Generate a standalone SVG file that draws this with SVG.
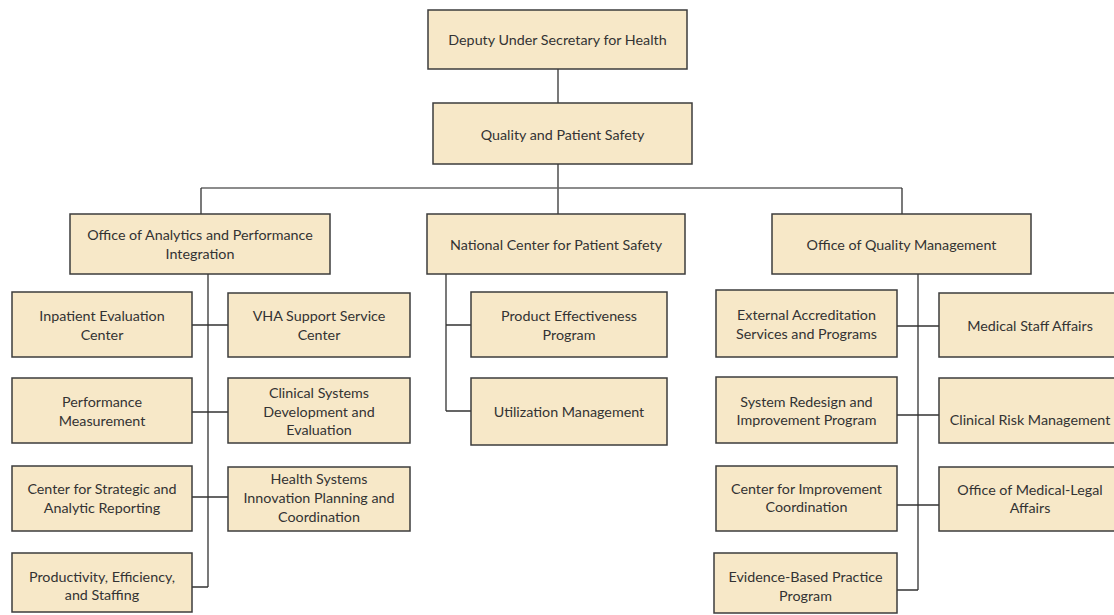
<svg xmlns="http://www.w3.org/2000/svg" width="1114" height="615" viewBox="0 0 1114 615">
<style>
.box{fill:#f7e8c8;stroke:#3c3c3c;stroke-width:1.5}
.t{font-family:Lato,"Open Sans","Liberation Sans",sans-serif;font-size:14.3px;fill:#333;text-anchor:middle}
.c{stroke:#333;stroke-width:1.3;fill:none}
.bar{stroke:#666;stroke-width:1.6;fill:none}
</style>
<rect width="1114" height="615" fill="#fff"/>
<g id="connectors">
<path class="c" d="M558,69V103M558,164V214"/>
<path class="bar" d="M201,188H902"/>
<path class="c" d="M201,188V214M902,188V214"/>
<path class="c" d="M208,274V587M192,325H228M192,412H228M192,497H228M192,587H208"/>
<path class="c" d="M446,274V411M446,325H471M446,411H471"/>
<path class="c" d="M918,274V590M897,326H939M897,415H939M897,505H939M897,590H918"/>
</g>
<g id="dus"><rect class="box" x="428" y="10" width="259" height="59"/><text class="t" x="557.5" y="44.5">Deputy Under Secretary for Health</text></g>
<g id="qps"><rect class="box" x="433" y="103" width="259" height="61"/><text class="t" x="562.5" y="139.5">Quality and Patient Safety</text></g>
<g id="oapi"><rect class="box" x="70" y="214" width="260" height="60"/><text class="t" x="200" y="240">Office of Analytics and Performance</text><text class="t" x="200" y="259">Integration</text></g>
<g id="ncps"><rect class="box" x="427" y="214" width="258" height="60"/><text class="t" x="556" y="250">National Center for Patient Safety</text></g>
<g id="oqm"><rect class="box" x="772" y="214" width="259" height="60"/><text class="t" x="901.5" y="250">Office of Quality Management</text></g>
<g id="iec"><rect class="box" x="12" y="292" width="180" height="65"/><text class="t" x="102" y="321">Inpatient Evaluation</text><text class="t" x="102" y="340">Center</text></g>
<g id="vha"><rect class="box" x="228" y="293" width="182" height="64"/><text class="t" x="319" y="321">VHA Support  Service</text><text class="t" x="319" y="340">Center</text></g>
<g id="pm"><rect class="box" x="12" y="378" width="180" height="65"/><text class="t" x="102" y="407">Performance</text><text class="t" x="102" y="426">Measurement</text></g>
<g id="csde"><rect class="box" x="228" y="378" width="182" height="65"/><text class="t" x="319" y="398">Clinical Systems</text><text class="t" x="319" y="416.5">Development and</text><text class="t" x="319" y="435">Evaluation</text></g>
<g id="csar"><rect class="box" x="12" y="466" width="180" height="65"/><text class="t" x="102" y="494">Center for Strategic and</text><text class="t" x="102" y="513">Analytic Reporting</text></g>
<g id="hsipc"><rect class="box" x="228" y="467" width="182" height="64"/><text class="t" x="319" y="484">Health Systems</text><text class="t" x="319" y="503">Innovation Planning and</text><text class="t" x="319" y="522">Coordination</text></g>
<g id="pes"><rect class="box" x="12" y="553" width="180" height="59"/><text class="t" x="102" y="582">Productivity,  Efficiency,</text><text class="t" x="102" y="600">and Staffing</text></g>
<g id="pep"><rect class="box" x="471" y="292" width="196" height="65"/><text class="t" x="569" y="321">Product  Effectiveness</text><text class="t" x="569" y="340">Program</text></g>
<g id="um"><rect class="box" x="471" y="378" width="196" height="67"/><text class="t" x="569" y="417">Utilization Management</text></g>
<g id="easp"><rect class="box" x="716" y="290" width="181" height="67"/><text class="t" x="806.5" y="320">External Accreditation</text><text class="t" x="806.5" y="339">Services and Programs</text></g>
<g id="msa"><rect class="box" x="939" y="293" width="182" height="64"/><text class="t" x="1030" y="331">Medical Staff Affairs</text></g>
<g id="srip"><rect class="box" x="716" y="377" width="181" height="66"/><text class="t" x="806.5" y="407">System Redesign and</text><text class="t" x="806.5" y="425">Improvement  Program</text></g>
<g id="crm"><rect class="box" x="939" y="378" width="182" height="65"/><text class="t" x="1030" y="425">Clinical Risk Management</text></g>
<g id="cic"><rect class="box" x="716" y="466" width="181" height="65"/><text class="t" x="806.5" y="494">Center for Improvement</text><text class="t" x="806.5" y="512">Coordination</text></g>
<g id="omla"><rect class="box" x="939" y="467" width="182" height="64"/><text class="t" x="1030" y="495">Office of Medical-Legal</text><text class="t" x="1030" y="513">Affairs</text></g>
<g id="ebpp"><rect class="box" x="714" y="553" width="183" height="60"/><text class="t" x="805.5" y="582">Evidence-Based Practice</text><text class="t" x="805.5" y="601">Program</text></g>
</svg>
